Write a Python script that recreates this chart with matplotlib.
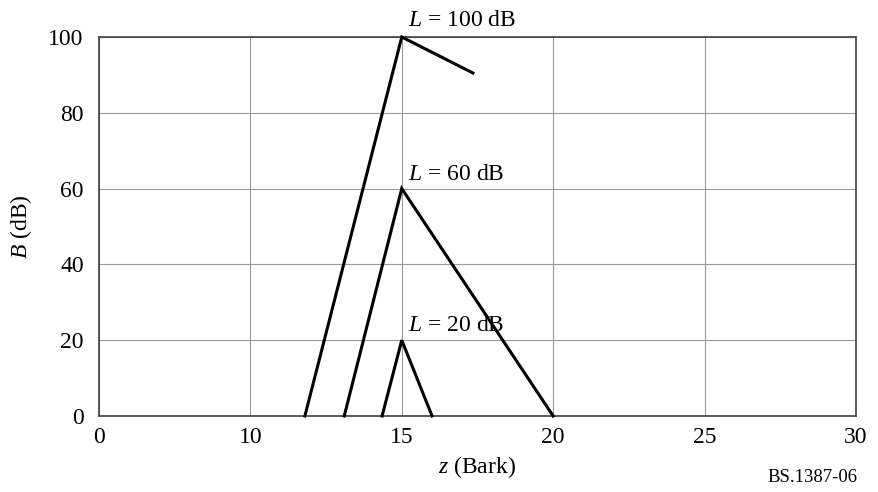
import matplotlib

matplotlib.use("Agg")
import matplotlib.pyplot as plt
import numpy as np

plt.rcParams["font.family"] = ["Liberation Serif", "DejaVu Serif"]
plt.rcParams["mathtext.fontset"] = "custom"
plt.rcParams["mathtext.it"] = "Liberation Serif:italic"
plt.rcParams["mathtext.rm"] = "Liberation Serif"

# spreading slopes (z in Bark, B in dB)
z_100 = [11.8, 15.0, 17.35]
b_100 = [0, 100, 90.5]
z_60 = [13.1, 15.0, 20.0]
b_60 = [0, 60, 0]
z_20 = [14.35, 15.0, 16.0]
b_20 = [0, 20, 0]

levels = ["100", "60", "20"]
label_y = [101.5, 63.8, 24.0]

x_ticks = [0, 10, 15, 20, 25, 30]
y_ticks = [0, 20, 40, 60, 80, 100]


# the z axis is compressed below 10 Bark: 0-10 spans one grid cell like 10-15
def fwd(z):
    z = np.asarray(z, dtype=float)
    return np.where(z < 10, z / 2.0, z - 5.0)


def inv(u):
    u = np.asarray(u, dtype=float)
    return np.where(u < 5, u * 2.0, u + 5.0)


fig = plt.figure(figsize=(8.79, 4.92), dpi=100)
ax = fig.add_axes([0.1126, 0.1545, 0.8612, 0.7703])
ax.set_xscale("function", functions=(fwd, inv))
ax.set_xlim(0, 30)
ax.set_ylim(0, 100)
ax.set_xticks(x_ticks)
ax.set_yticks(y_ticks)
ax.tick_params(length=0, labelsize=17)
ax.tick_params(axis="x", pad=8)
ax.tick_params(axis="y", pad=11)
ax.grid(True, color="#999999", linewidth=0.8)
ax.set_axisbelow(True)
for s in ax.spines.values():
    s.set_color("#404040")
    s.set_linewidth(1.2)

for zs, bs in [(z_100, b_100), (z_60, b_60), (z_20, b_20)]:
    ax.plot(zs, bs, color="black", linewidth=2.2, solid_joinstyle="miter",
            clip_on=False, zorder=3)

for lvl, y in zip(levels, label_y):
    ax.text(15.2, y, rf"$L$ = {lvl} dB", fontsize=17, ha="left",
            va="bottom" if y > 100 else "center", clip_on=False)

ax.set_xlabel(r"$z$ (Bark)", fontsize=17, labelpad=4)
ax.set_ylabel(r"$B$ (dB)", fontsize=17, labelpad=10)
fig.text(0.975, 0.012, "BS.1387-06", fontsize=13.5, ha="right", va="bottom")

fig.savefig("out.png", dpi=100)
